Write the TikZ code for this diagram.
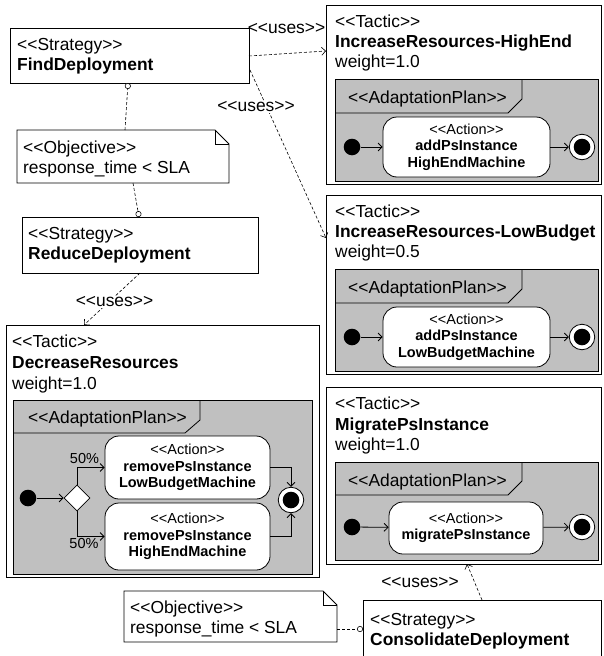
\documentclass[tikz,border=0pt]{standalone}
\usepackage{fontspec}
\setmainfont{Liberation Sans}
\usetikzlibrary{arrows.meta,shapes.geometric,calc}

% stereotype brackets kept as two plain characters
\newcommand{\stl}{<\kern0pt<}
\newcommand{\stg}{>\kern0pt>}
\newcommand{\mainsize}{\fontsize{17.4}{20.5}\selectfont}
\newcommand{\actsize}{\fontsize{14.5}{16.5}\selectfont}
\definecolor{plangray}{RGB}{192,192,192}

\begin{document}
\begin{tikzpicture}[x=1pt,y=-1pt,
  box/.style={draw, fill=white, line width=0.9pt, inner sep=0pt, outer sep=0pt, anchor=north west},
  notearea/.style={inner sep=0pt, outer sep=0pt, anchor=north west},
  noteline/.style={draw, fill=white, line width=0.9pt},
  planframe/.style={draw, fill=plangray, line width=0.8pt},
  planline/.style={line width=0.8pt},
  txt/.style={anchor=base west, inner sep=0pt, font=\mainsize},
  btxt/.style={anchor=base west, inner sep=0pt, font=\mainsize\bfseries},
  lbl/.style={inner sep=1pt, font=\mainsize},
  pct/.style={inner sep=0pt, font=\actsize},
  action/.style={draw, fill=white, rounded corners=14pt, line width=0.8pt, align=center, inner sep=0pt, font=\actsize},
  initnode/.style={circle, fill=black, minimum size=16.6pt, inner sep=0pt},
  finalnode/.style={circle, draw, fill=white, line width=0.8pt, minimum size=25.5pt, inner sep=0pt,
    path picture={\fill[black] (path picture bounding box.center) circle (8.3pt);}},
  decision/.style={diamond, draw, fill=white, line width=0.8pt, minimum width=26pt, minimum height=26pt, inner sep=0pt},
  flow/.style={line width=0.8pt, -{Straight Barb[length=4pt,width=8pt]}},
  uses/.style={dash pattern=on 3pt off 2pt, line width=0.6pt, -{Straight Barb[length=4pt,width=8pt]}},
  link/.style={dash pattern=on 3pt off 2pt, line width=0.6pt, -{Circle[length=6pt, fill=white]}},
]
\useasboundingbox (0,0) rectangle (603,656);

% ---------- strategies and objectives (left) ----------
\node[box, minimum width=239, minimum height=55] (fd) at (10,28) {};
\node[txt]  (fd1) at (17,50) {\stl Strategy\stg};
\node[btxt] (fd2) at (17,70) {FindDeployment};

\node[notearea, minimum width=212, minimum height=53] (ob1) at (17,130) {};
\draw[noteline] (ob1.north west) -- ($(ob1.north east)+(-14,0)$) -- ($(ob1.north east)+(0,14)$)
  -- (ob1.south east) -- (ob1.south west) -- cycle;
\draw[line width=0.9pt] ($(ob1.north east)+(-14,0)$) -- ($(ob1.north east)+(-14,14)$) -- ($(ob1.north east)+(0,14)$);
\node[txt] (ob1a) at (23,153) {\stl Objective\stg};
\node[txt] (ob1b) at (23,173) {response\_time < SLA};

\node[box, minimum width=236, minimum height=56] (rd) at (22,217) {};
\node[txt]  (rd1) at (28,239) {\stl Strategy\stg};
\node[btxt] (rd2) at (28,259) {ReduceDeployment};

% ---------- tactic: DecreaseResources ----------
\node[box, minimum width=313, minimum height=252] (dr) at (6,325) {};
\node[txt]  (dr1) at (12,347) {\stl Tactic\stg};
\node[btxt] (dr2) at (12,368) {DecreaseResources};
\node[txt]  (dr3) at (12,389) {weight=1.0};
\draw[planframe] (13,400) rectangle (312,574);
\draw[planline] (13,433) -- (185,433) -- (200,420) -- (200,400);
\node[txt] (drp) at (28,423) {\stl AdaptationPlan\stg};

\node[initnode] (dri) at (28,498) {};
\node[decision] (drd) at (77,498) {};
\node[action, minimum width=165, minimum height=63] (dra1) at (187.5,467.5)
  {\stl Action\stg\\\textbf{removePsInstance}\\\textbf{LowBudgetMachine}};
\node[action, minimum width=165, minimum height=67] (dra2) at (187.5,536.5)
  {\stl Action\stg\\\textbf{removePsInstance}\\\textbf{HighEndMachine}};
\node[finalnode] (drf) at (291,500) {};
\draw[flow] (dri) -- (drd);
\draw[flow] (drd.north) |- (dra1.west);
\draw[flow] (drd.south) |- (dra2.west);
\draw[flow] (dra1.east) -| (drf.north);
\draw[flow] (dra2.east) -| (drf.south);
\node[pct] (p1) at (84.5,459) {50\%};
\node[pct] (p2) at (84,544) {50\%};

% ---------- tactic: IncreaseResources-HighEnd ----------
\node[box, minimum width=275.5, minimum height=179] (he) at (326,5) {};
\node[txt]  (he1) at (335,27.5) {\stl Tactic\stg};
\node[btxt] (he2) at (335,47.5) {IncreaseResources-HighEnd};
\node[txt]  (he3) at (335,67.5) {weight=1.0};
\draw[planframe] (335,79) rectangle (598,181);
\draw[planline] (335,113) -- (508,113) -- (522,99) -- (522,79);
\node[txt] (hep) at (348,103) {\stl AdaptationPlan\stg};
\node[initnode] (hei) at (352,147) {};
\node[action, minimum width=167, minimum height=60] (hea) at (466.5,147)
  {\stl Action\stg\\\textbf{addPsInstance}\\\textbf{HighEndMachine}};
\node[finalnode] (hef) at (582,147) {};
\draw[flow] (hei) -- (hea);
\draw[flow] (hea) -- (hef);

% ---------- tactic: IncreaseResources-LowBudget ----------
\node[box, minimum width=275.5, minimum height=179] (lb) at (326,195) {};
\node[txt]  (lb1) at (335,217.5) {\stl Tactic\stg};
\node[btxt] (lb2) at (335,237.5) {IncreaseResources-LowBudget};
\node[txt]  (lb3) at (335,257.5) {weight=0.5};
\draw[planframe] (335,269) rectangle (598,371);
\draw[planline] (335,303) -- (508,303) -- (522,289) -- (522,269);
\node[txt] (lbp) at (348,293) {\stl AdaptationPlan\stg};
\node[initnode] (lbi) at (352,337) {};
\node[action, minimum width=167, minimum height=60] (lba) at (466.5,337)
  {\stl Action\stg\\\textbf{addPsInstance}\\\textbf{LowBudgetMachine}};
\node[finalnode] (lbf) at (582,337) {};
\draw[flow] (lbi) -- (lba);
\draw[flow] (lba) -- (lbf);

% ---------- tactic: MigratePsInstance ----------
\node[box, minimum width=275.5, minimum height=177] (mp) at (326,387) {};
\node[txt]  (mp1) at (335,409) {\stl Tactic\stg};
\node[btxt] (mp2) at (335,430) {MigratePsInstance};
\node[txt]  (mp3) at (335,450) {weight=1.0};
\draw[planframe] (335,462) rectangle (598,560);
\draw[planline] (335,495) -- (508,495) -- (522,481) -- (522,462);
\node[txt] (mpp) at (348,486) {\stl AdaptationPlan\stg};
\node[initnode] (mpi) at (352,527) {};
\node[action, minimum width=154, minimum height=52] (mpa) at (466,528)
  {\stl Action\stg\\\textbf{migratePsInstance}};
\node[finalnode] (mpf) at (582,527) {};
\draw[flow] (mpi) -- (mpa);
\draw[flow] (mpa) -- (mpf);

% ---------- bottom: ConsolidateDeployment and its objective ----------
\node[box, minimum width=238, minimum height=70] (cd) at (363,600) {};
\node[txt]  (cd1) at (370,625) {\stl Strategy\stg};
\node[btxt] (cd2) at (370,645) {ConsolidateDeployment};

\node[notearea, minimum width=213, minimum height=51] (ob2) at (124,591) {};
\draw[noteline] (ob2.north west) -- ($(ob2.north east)+(-14,0)$) -- ($(ob2.north east)+(0,14)$)
  -- (ob2.south east) -- (ob2.south west) -- cycle;
\draw[line width=0.9pt] ($(ob2.north east)+(-14,0)$) -- ($(ob2.north east)+(-14,14)$) -- ($(ob2.north east)+(0,14)$);
\node[txt] (ob2a) at (130,613) {\stl Objective\stg};
\node[txt] (ob2b) at (130,633) {response\_time < SLA};

% ---------- connectors ----------
\draw[link] ($(ob1.north west)+(108,0)$) -- ($(fd.south west)+(118,0)$);
\draw[link] ($(ob1.south west)+(116,0)$) -- ($(rd.north west)+(117,0)$);
\draw[link] ($(ob2.north east)+(0,38)$) -- ($(cd.north west)+(0,29)$);

\draw[uses] ($(rd.south west)+(118,0)$) -- ($(dr.north west)+(78,0)$);
\node[lbl, fill=white] (u1) at (114.5,302) {\stl uses\stg};

\draw[uses] ($(fd.north east)+(0,28)$) -- ($(he.north west)+(0,46)$);
\node[lbl] (u2) at (286.5,29) {\stl uses\stg};

\draw[uses] ($(fd.north east)+(1,42)$) -- ($(lb.north west)+(0,43)$);
\node[lbl, fill=white] (u3) at (256,107) {\stl uses\stg};

\draw[uses] ($(cd.north west)+(119,0)$) -- ($(mp.south west)+(141,0)$);
\node[lbl] (u4) at (420,583) {\stl uses\stg};
\end{tikzpicture}
\end{document}
